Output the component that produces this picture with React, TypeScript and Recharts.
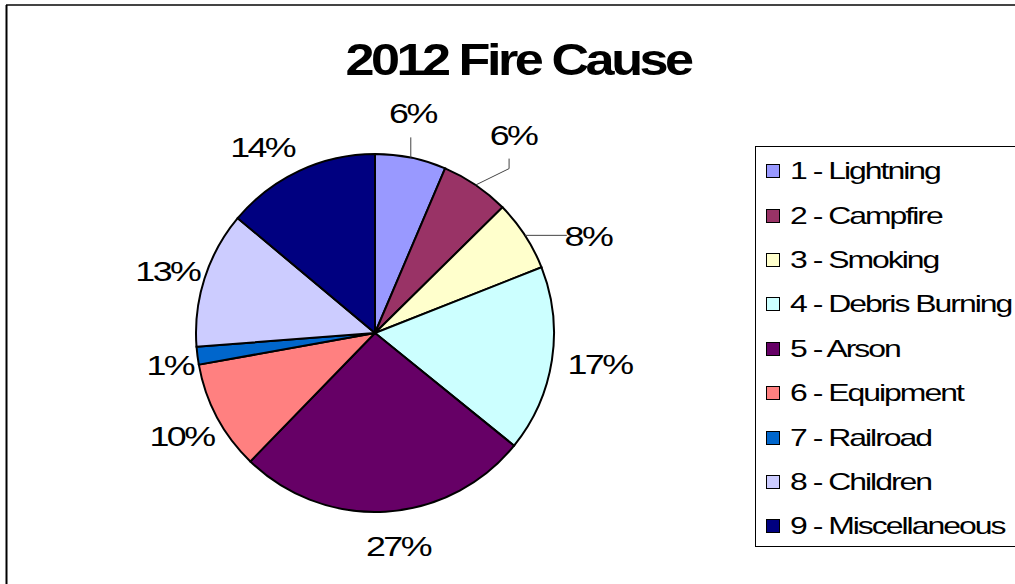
import React from 'react';
import { PieChart, Pie, Cell, Legend } from 'recharts';

// 2012 fire causes, slice shares
const categories = [
  '1 - Lightning',
  '2 - Campfire',
  '3 - Smoking',
  '4 - Debris Burning',
  '5 - Arson',
  '6 - Equipment',
  '7 - Railroad',
  '8 - Children',
  '9 - Miscellaneous',
];
const shares = [6.4, 6.2, 6.4, 16.8, 26.4, 9.9, 1.6, 12.3, 13.9];
const pctLabels = ['6%', '6%', '8%', '17%', '27%', '10%', '1%', '13%', '14%'];
const colors = ['#9999FF', '#993366', '#FFFFCC', '#CCFFFF', '#660066', '#FF8080', '#0066CC', '#CCCCFF', '#000080'];

const data = categories.map((name, i) => ({ name, value: shares[i] }));

// label placement tweaks (like Excel's dragged labels) and leader line kind
const labelNudge: [number, number][] = [
  [-6, -7], [16, -19], [31, 21], [10, -2], [10, -4], [-2, 1], [10, 4], [-1, 4], [-21, 11],
];
const leaderKind: (string | null)[] = ['up', 'elbow', 'side', null, null, null, null, null, null];

const FONT = '"Liberation Sans", Arial, sans-serif';
const RAD = Math.PI / 180;

const renderLabel = (props: any) => {
  const { cx, cy, midAngle, outerRadius, index } = props;
  const cos = Math.cos(-midAngle * RAD);
  const sin = Math.sin(-midAngle * RAD);
  const lx = cx + 217 * cos + labelNudge[index][0];
  const ly = cy + 217 * sin + labelNudge[index][1];
  const ex = cx + outerRadius * cos;
  const ey = cy + outerRadius * sin;
  const text = pctLabels[index];
  const halfW = text.length * 8;

  let path = '';
  const kind = leaderKind[index];
  if (kind === 'up') path = `M${ex},${ey} L${ex},${ly + 24}`;
  if (kind === 'elbow') path = `M${ex},${ey} L${lx - 4},${ly + 34} L${lx - 4},${ly + 24}`;
  if (kind === 'side') path = `M${ex},${ey} L${lx - halfW - 5},${ey}`;

  return (
    <g key={`lbl-${index}`}>
      {path && <path d={path} stroke="#444" strokeWidth={1} fill="none" />}
      <text
        transform={`translate(${lx},${ly + 10}) scale(1.28,1)`}
        x={0}
        y={0}
        textAnchor="middle"
        fontFamily={FONT}
        fontSize={28}
        letterSpacing={-2}
        fill="#000"
      >
        {text}
      </text>
    </g>
  );
};

const renderLegend = () => (
  <div
    style={{
      width: 268,
      height: 401,
      border: '1px solid #000',
      boxSizing: 'border-box',
      background: '#fff',
      paddingTop: 2,
    }}
  >
    {categories.map((name, i) => (
      <div key={name} style={{ height: 44.4, display: 'flex', alignItems: 'center' }}>
        <div
          style={{
            width: 12,
            height: 12,
            marginLeft: 10,
            background: colors[i],
            border: '1px solid #000',
          }}
        />
        <span
          style={{
            display: 'inline-block',
            marginLeft: 10,
            fontFamily: FONT,
            fontSize: 24,
            lineHeight: 1,
            letterSpacing: -1.5,
            transform: 'scaleX(1.33)',
            transformOrigin: 'left center',
            whiteSpace: 'nowrap',
            color: '#000',
          }}
        >
          {name}
        </span>
      </div>
    ))}
  </div>
);

export default function App() {
  return (
    <div style={{ position: 'absolute', left: 0, top: 0, width: 1015, height: 584, background: '#fff', overflow: 'hidden' }}>
      <svg width={1015} height={584} style={{ position: 'absolute', left: 0, top: 0 }}>
        <line x1={6} y1={5} x2={1015} y2={5} stroke="#444" strokeWidth={2} />
        <line x1={6.5} y1={5} x2={6.5} y2={584} stroke="#000" strokeWidth={2} />
        <text
          transform="translate(518,75) scale(1.16,1)"
          x={0}
          y={0}
          textAnchor="middle"
          fontFamily={FONT}
          fontWeight="bold"
          fontSize={45}
          letterSpacing={-3}
          fill="#000"
        >
          2012 Fire Cause
        </text>
      </svg>
      <div style={{ position: 'absolute', left: 0, top: 0 }}>
        <PieChart width={1015} height={584} margin={{ top: 0, right: 0, bottom: 0, left: 0 }}>
          <Pie
            data={data}
            dataKey="value"
            nameKey="name"
            cx={375}
            cy={333}
            outerRadius={179}
            startAngle={90}
            endAngle={-270}
            stroke="#000"
            strokeWidth={2}
            label={renderLabel}
            labelLine={false}
            isAnimationActive={false}
          >
            {data.map((d, i) => (
              <Cell key={d.name} fill={colors[i]} />
            ))}
          </Pie>
          <Legend
            content={renderLegend}
            wrapperStyle={{ position: 'absolute', left: 755, top: 146, width: 268, height: 401 }}
          />
        </PieChart>
      </div>
    </div>
  );
}
